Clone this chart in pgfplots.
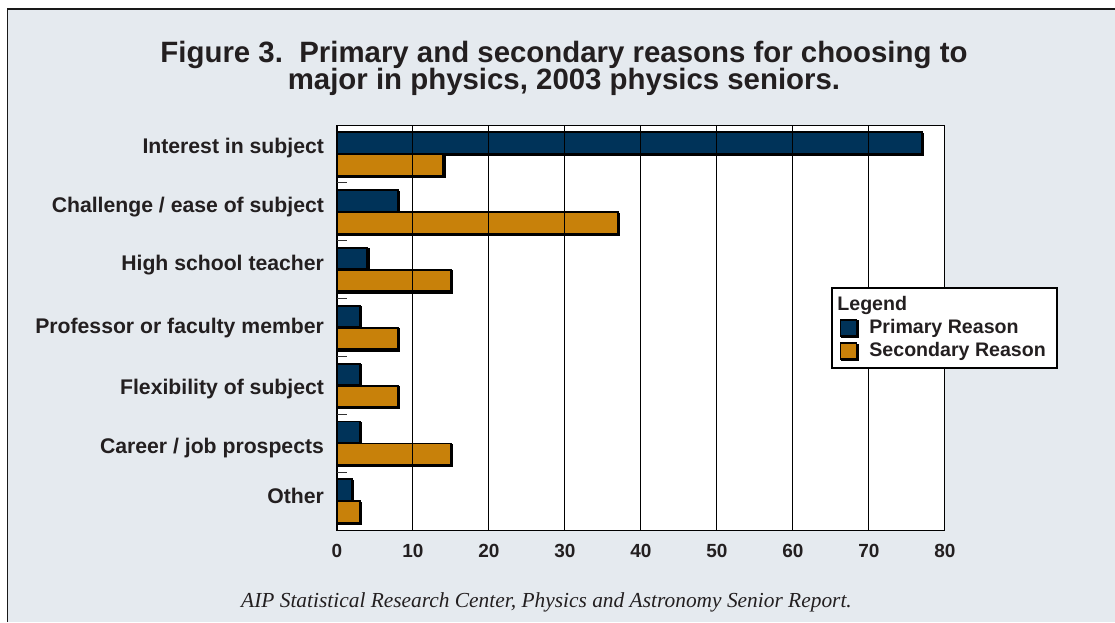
\documentclass[border=0pt]{standalone}
\usepackage{pgfplots}
\usepackage{pgfplotstable}
\pgfplotsset{compat=1.18}
\usepackage{fontspec}
\setmainfont{Liberation Sans}
\newfontfamily\captionserif{Liberation Serif}

\definecolor{panelbg}{RGB}{229,234,239}
\definecolor{navybar}{RGB}{0,51,89}
\definecolor{ochrebar}{RGB}{200,129,10}
\definecolor{ink}{RGB}{35,31,32}

% shares of seniors (percent) per reason
\pgfplotstableread{
idx primary secondary
0 77 14
1 8 37
2 4 15
3 3 8
4 3 8
5 3 15
6 2 3
}\reasons

\pgfplotsset{
  sqlegend/.style={legend image code/.code={%
    \draw[##1, line width=0.7pt] (0pt,-4pt) rectangle (8pt,4pt);}},
  barshadow/.style={preaction={fill=black!22,
    transform canvas={xshift=0.7pt, yshift=-0.7pt}}},
}

\begin{document}
\begin{tikzpicture}[ink]
% page background and frame
\fill[white] (0,0) rectangle (557.5pt,311pt);
\fill[panelbg] (3.5pt,0) rectangle (557.5pt,306.75pt);
\draw[black!90, line width=0.8pt] (3.75pt,0) -- (3.75pt,306.5pt) -- (557.5pt,306.5pt);

% title
\node[anchor=base, inner sep=0pt, font=\bfseries\fontsize{14.7}{16}\selectfont]
  at (282pt,279.5pt) {Figure 3.\ \ Primary and secondary reasons for choosing to};
\node[anchor=base, inner sep=0pt, font=\bfseries\fontsize{14.7}{16}\selectfont]
  at (282pt,266.25pt) {major in physics, 2003 physics seniors.};

\begin{axis}[
  at={(168.5pt,46pt)}, anchor=south west,
  scale only axis, width=304pt, height=202.5pt,
  xbar, y dir=reverse,
  xmin=0, xmax=80, ymin=-0.5, ymax=6.5,
  xtick={0,10,...,80},
  ytick={0,1.02,2.01,3.11,4.15,5.17,6.05},
  yticklabels={Interest in subject, Challenge / ease of subject,
    High school teacher, Professor or faculty member,
    Flexibility of subject, Career / job prospects, Other},
  yticklabel style={anchor=base east, xshift=-3pt,
    font=\bfseries\fontsize{10.6}{12}\selectfont},
  xticklabel style={yshift=-3.8pt, font=\bfseries\fontsize{9.5}{11}\selectfont},
  /pgf/number format/assume math mode=true,
  major tick length=0pt,
  tick pos=left,
  extra y ticks={0.5,1.5,2.5,3.5,4.5,5.5},
  extra y tick labels={},
  extra y tick style={major tick length=5pt, tick align=inside,
    tick style={draw=black!80, line width=0.5pt}},
  xmajorgrids,
  major grid style={black, line width=0.5pt},
  axis on top,
  axis background/.style={fill=white},
  axis line style={black, line width=0.5pt},
  bar width=0.37,
  legend cell align=left,
  legend style={at={(0.8125,0.6)}, anchor=north west,
    draw=black, line width=1pt, fill=white,
    font=\bfseries\fontsize{9.8}{11}\selectfont,
    inner xsep=4pt, inner ysep=2.5pt, row sep=0pt, column sep=4.5pt,
    nodes={inner sep=1.5pt}},
]
\addlegendimage{empty legend}
\addlegendentry{\hspace*{-16pt}Legend}

\addplot[fill=navybar, draw=black, line width=0.9pt, bar shift=-0.19,
  barshadow, sqlegend] table[x=primary, y=idx] {\reasons};
\addlegendentry{Primary Reason}

\addplot[fill=ochrebar, draw=black, line width=0.9pt, bar shift=0.19,
  barshadow, sqlegend] table[x=secondary, y=idx] {\reasons};
\addlegendentry{Secondary Reason}

% heavier left and bottom axis lines
\draw[black, line width=1.3pt] (rel axis cs:0,0) -- (rel axis cs:0,1) -- (rel axis cs:1,1);
\end{axis}

% source line
\node[anchor=base, inner sep=0pt, font=\captionserif\itshape\fontsize{10.7}{12}\selectfont]
  at (273.25pt,7.5pt) {AIP Statistical Research Center, Physics and Astronomy Senior Report.};

\pgfresetboundingbox
\path[use as bounding box] (0,0) rectangle (557.5pt,311pt);
\end{tikzpicture}
\end{document}
